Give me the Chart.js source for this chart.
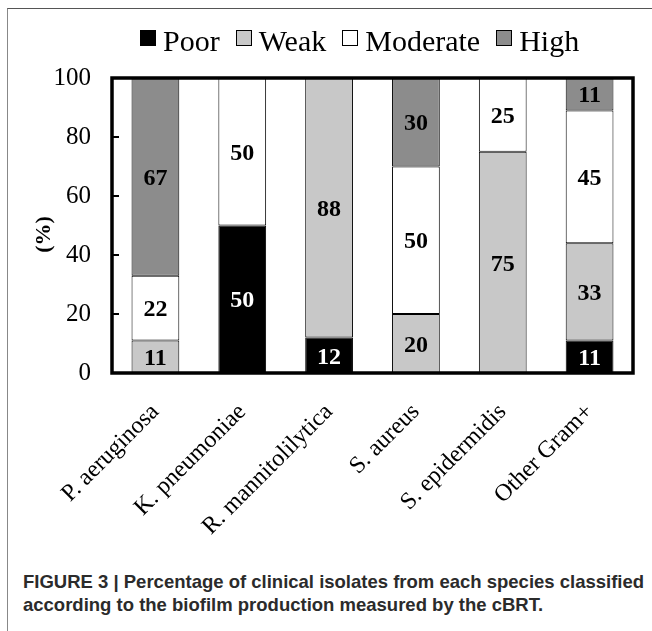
<!DOCTYPE html>
<html>
<head>
<meta charset="utf-8">
<script src="https://cdn.jsdelivr.net/npm/chart.js@4.4.1/dist/chart.umd.min.js"></script>
<style>
  html,body{margin:0;padding:0;background:#fff;}
  body{width:652px;height:631px;position:relative;overflow:hidden;}
  #frame{position:absolute;left:7px;top:8px;right:0;bottom:0;border-top:1.5px solid #555;border-left:1.5px solid #888;}
  #wrap{position:absolute;left:0;top:0;width:652px;height:540px;}
  #legend{position:absolute;left:140px;top:26px;display:flex;align-items:center;white-space:nowrap;
    font-family:"Liberation Serif","Times New Roman",serif;font-size:30px;line-height:30px;color:#000;}
  #legend .item{display:flex;align-items:center;margin-right:16px;}
  #legend .box{width:14px;height:14px;border:1.5px solid #000;margin-right:7px;position:relative;top:-3px;}
  #caption{position:absolute;left:23px;top:570px;white-space:nowrap;
    font-family:"Liberation Sans",Arial,sans-serif;font-weight:bold;font-size:18.5px;line-height:23px;color:#2b2b2b;}
</style>
</head>
<body>
<div id="frame"></div>
<div id="wrap"><canvas id="c" width="652" height="540"></canvas></div>
<div id="legend"></div>
<div id="caption">FIGURE 3 | Percentage of clinical isolates from each species classified<br>according to the biofilm production measured by the cBRT.</div>
<script>
// species on the x axis
const categories = ['P. aeruginosa','K. pneumoniae','R. mannitolilytica','S. aureus','S. epidermidis','Other Gram+'];

// percentage of isolates per biofilm class (stacked, sums to 100)
const poor     = [0, 50, 12, 0, 0, 11];
const weak     = [11, 0, 88, 20, 75, 33];
const moderate = [22, 50, 0, 50, 25, 45];
const high     = [67, 0, 0, 30, 0, 11];

const yMin = 0, yMax = 100, yStep = 20;

const serif = '"Liberation Serif","Times New Roman",serif';
const nz = (arr)=>arr.map(v=> v ? v : null);

const datasets = [
  {label:'Poor', data:nz(poor), backgroundColor:'#000000', labelColor:'#ffffff'},
  {label:'Weak', data:nz(weak), backgroundColor:'#c8c8c8', labelColor:'#000000'},
  {label:'Moderate', data:nz(moderate), backgroundColor:'#ffffff', labelColor:'#000000'},
  {label:'High', data:nz(high), backgroundColor:'#8c8c8c', labelColor:'#000000'},
].map(d=>Object.assign(d,{borderColor:'#000',borderWidth:1,borderSkipped:false,barPercentage:0.55,categoryPercentage:1}));

// value labels, frame, inner ticks and axis title
const decor = {
  id:'decor',
  afterDatasetsDraw(chart){
    const ctx = chart.ctx;
    ctx.save();
    ctx.font = 'bold 24px ' + serif;
    ctx.textAlign = 'center'; ctx.textBaseline = 'middle';
    chart.data.datasets.forEach((ds,i)=>{
      chart.getDatasetMeta(i).data.forEach((bar,j)=>{
        const v = ds.data[j];
        if (!v) return;
        const p = bar.getProps(['x','y','base'], true);
        ctx.fillStyle = ds.labelColor;
        ctx.fillText(String(v), p.x, (p.y + p.base)/2 + 2);
      });
    });
    ctx.restore();
  },
  afterDraw(chart){
    const {ctx, chartArea:a, scales:{y}} = chart;
    ctx.save();
    ctx.strokeStyle = '#000';
    ctx.lineWidth = 2;
    y.ticks.forEach(t=>{
      if (t.value===yMin || t.value===yMax) return;
      const py = y.getPixelForValue(t.value);
      ctx.beginPath(); ctx.moveTo(a.left, py); ctx.lineTo(a.left+7, py); ctx.stroke();
    });
    ctx.lineWidth = 3.5;
    ctx.strokeRect(a.left, a.top, a.right-a.left, a.bottom-a.top);
    ctx.translate(44, (a.top+a.bottom)/2 + 9);
    ctx.rotate(-Math.PI/2);
    ctx.font = 'bold 22px ' + serif;
    ctx.fillStyle = '#000';
    ctx.textAlign = 'center'; ctx.textBaseline = 'middle';
    ctx.fillText('(%)', 0, 0);
    ctx.restore();
  }
};

const chart = new Chart(document.getElementById('c'), {
  type:'bar',
  data:{labels:categories, datasets},
  options:{
    responsive:false, animation:false, devicePixelRatio:1,
    layout:{padding:{top:78, right:19, left:0, bottom:0}},
    plugins:{legend:{display:false}, tooltip:{enabled:false}},
    scales:{
      x:{
        stacked:true,
        grid:{display:false, drawTicks:false}, border:{display:false},
        ticks:{color:'#000', font:{family:serif, size:24}, maxRotation:45, minRotation:45, padding:25},
        afterFit(s){ s.height = 540-373; }
      },
      y:{
        stacked:true, min:yMin, max:yMax,
        grid:{display:false, drawTicks:false}, border:{display:false},
        ticks:{stepSize:yStep, color:'#000', font:{family:serif, size:25}, padding:21},
        afterFit(s){ s.width = 112; }
      }
    }
  },
  plugins:[decor]
});

// html legend built from the datasets
const leg = document.getElementById('legend');
chart.data.datasets.forEach(ds=>{
  const it = document.createElement('div'); it.className='item';
  it.innerHTML = `<span class="box" style="background:${ds.backgroundColor}"></span><span>${ds.label}</span>`;
  leg.appendChild(it);
});
</script>
</body>
</html>
